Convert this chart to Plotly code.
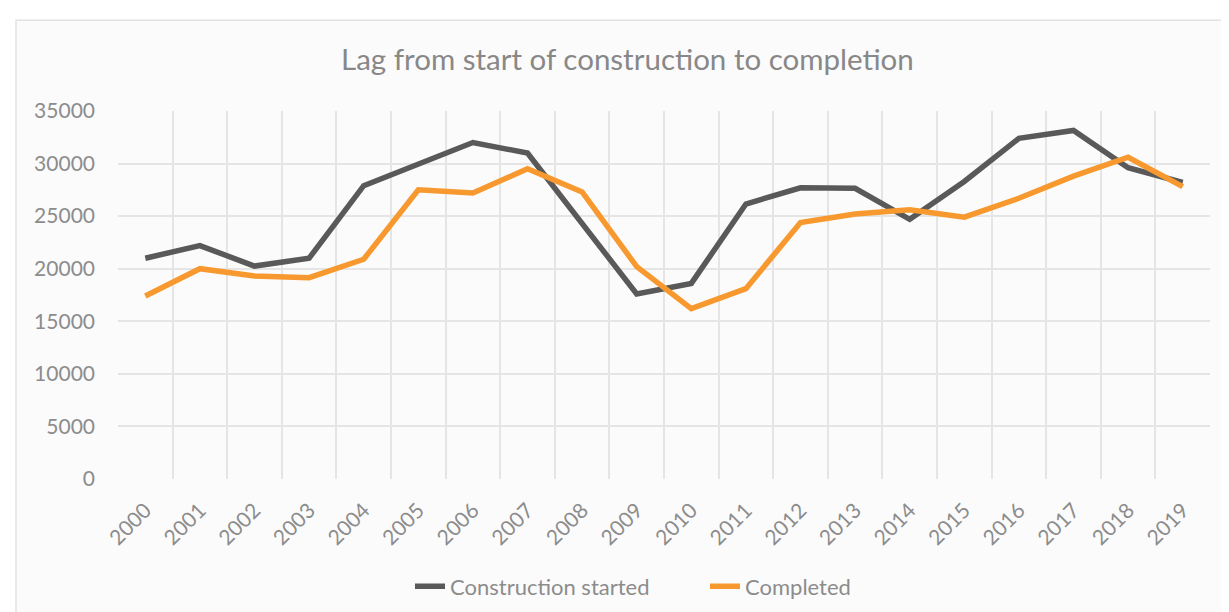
import plotly.graph_objects as go

years = [str(y) for y in range(2000, 2020)]
started = [21000, 22200, 20250, 21000, 27900, 30000, 32000, 31000, 24300, 17600,
           18600, 26150, 27700, 27650, 24700, 28300, 32400, 33150, 29600, 28200]
completed = [17400, 20000, 19300, 19150, 20900, 27500, 27200, 29500, 27300, 20200,
             16200, 18100, 24400, 25200, 25600, 24900, 26700, 28800, 30600, 27800]
y_ticks = [0, 5000, 10000, 15000, 20000, 25000, 30000, 35000]

FONT = "Lato"
TXT = "#8c8c8c"
GRID = "#e5e5e5"

fig = go.Figure()
fig.add_trace(go.Scatter(x=years, y=started, mode="lines", name="Construction started",
                         line=dict(color="#595959", width=5.5)))
fig.add_trace(go.Scatter(x=years, y=completed, mode="lines", name="Completed",
                         line=dict(color="#f7992e", width=5.5)))

W, H = 1229, 612
L, R, T, B = 110, 27, 103, 136
pw, ph = W - L - R, H - T - B

fig.update_layout(
    width=W, height=H,
    margin=dict(l=L, r=R, t=T, b=B, pad=0),
    paper_bgcolor="white",
    plot_bgcolor="rgba(0,0,0,0)",
    font=dict(family=FONT, color=TXT),
    title=dict(text="Lag from start of construction to completion",
               x=0.504, xref="container", xanchor="center",
               y=1 - 52 / H, yref="container", yanchor="middle",
               font=dict(size=29.5, color="#888888", family=FONT)),
    showlegend=True,
    legend=dict(orientation="h", x=(402 - L) / pw, xanchor="left",
                y=-(585 - (T + ph)) / ph, yanchor="middle",
                font=dict(size=22, color=TXT, family=FONT),
                bgcolor="rgba(0,0,0,0)", entrywidth=250, entrywidthmode="pixels"),
    shapes=[dict(type="rect", xref="paper", yref="paper", layer="below",
                 x0=(8 - L) / pw, x1=(W + 5 - L) / pw,
                 y0=-(H + 5 - (T + ph)) / ph, y1=1 + (T - 11) / ph,
                 fillcolor="#fbfbfb", line=dict(color="#e2e2e2", width=1.5))],
)
fig.update_xaxes(type="category", range=[-0.5, 19.5], tickson="boundaries",
                 showgrid=True, gridcolor=GRID, gridwidth=1.5,
                 ticks="", tickangle=-45, ticklabelstandoff=14,
                 tickfont=dict(size=21, color=TXT, family=FONT),
                 showline=False, zeroline=False)
fig.update_yaxes(range=[0, 35000], tickvals=y_ticks, ticktext=[str(v) for v in y_ticks],
                 showgrid=True, gridcolor=GRID, gridwidth=1.5,
                 ticks="", ticklabelstandoff=22,
                 tickfont=dict(size=21, color=TXT, family=FONT),
                 showline=False, zeroline=False)

fig.write_html("out.html")
